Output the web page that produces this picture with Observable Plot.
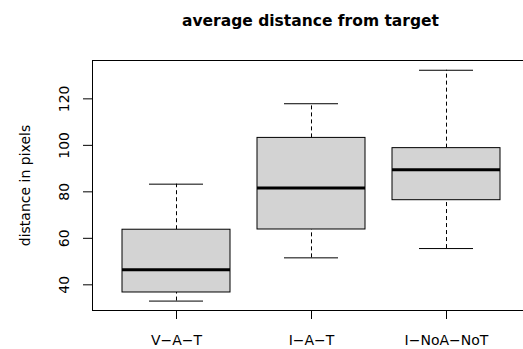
<!DOCTYPE html>
<html>
<head>
<meta charset="utf-8">
<script src="https://cdn.jsdelivr.net/npm/d3@7"></script>
<script src="https://cdn.jsdelivr.net/npm/@observablehq/plot@0.6"></script>
<style>
  html, body { margin: 0; padding: 0; background: #fff; overflow: hidden; }
  #wrap { width: 523px; height: 349px; position: relative; overflow: hidden; }
  #title {
    height: 40px; box-sizing: border-box; padding-top: 12px; padding-left: 98px;
    line-height: 18px; text-align: center; font-family: "DejaVu Sans", sans-serif;
    font-weight: bold; font-size: 15.5px; color: #000; white-space: nowrap;
  }
  #chart { width: 523px; overflow: hidden; }
  #chart svg { display: block; max-width: none !important; }
</style>
</head>
<body>
<div id="wrap">
  <div id="title">average distance from target</div>
  <div id="chart"></div>
</div>
<script>
const categories = ["V−A−T", "I−A−T", "I−NoA−NoT"];
const lowerWhisker = [33.0, 51.6, 55.6];
const lowerQuartile = [36.7, 63.8, 76.4];
const medians = [46.5, 81.7, 89.5];
const upperQuartile = [63.7, 103.2, 98.8];
const upperWhisker = [83.3, 117.9, 132.3];
const yTicks = [40, 60, 80, 100, 120];
const yLabel = "distance in pixels";

const rows = categories.map((c, i) => ({
  cat: c,
  lo: lowerWhisker[i],
  q1: lowerQuartile[i],
  med: medians[i],
  q3: upperQuartile[i],
  hi: upperWhisker[i]
}));

const chart = Plot.plot({
  width: 531,
  height: 309,
  marginTop: 20,
  marginBottom: 39,
  marginLeft: 92,
  marginRight: 0.4,
  style: { fontFamily: "DejaVu Sans, sans-serif", fontSize: "14px", color: "#000", background: "#fff", maxWidth: "none" },
  x: {
    type: "band", domain: categories, paddingInner: 0.2, paddingOuter: 0.22,
    tickSize: 9, tickPadding: 15.4, label: null
  },
  y: {
    domain: [28.95, 136.5], ticks: yTicks, tickSize: 9, tickRotate: -90,
    tickPadding: 14.7, label: null
  },
  marks: [
    Plot.ruleX(rows, { x: "cat", y1: "q3", y2: "hi", stroke: "#000", strokeDasharray: "4,3" }),
    Plot.ruleX(rows, { x: "cat", y1: "lo", y2: "q1", stroke: "#000", strokeDasharray: "4,3" }),
    Plot.tickY(rows, { x: "cat", y: "hi", stroke: "#000", insetLeft: 27, insetRight: 27 }),
    Plot.tickY(rows, { x: "cat", y: "lo", stroke: "#000", insetLeft: 27, insetRight: 27 }),
    Plot.barY(rows, { x: "cat", y1: "q1", y2: "q3", fill: "#d3d3d3", stroke: "#000", strokeWidth: 1 }),
    Plot.tickY(rows, { x: "cat", y: "med", stroke: "#000", strokeWidth: 3 }),
    Plot.frame({ stroke: "#000" }),
    Plot.text([yLabel], {
      text: d => d, frameAnchor: "left", rotate: -90, dx: -62.5,
      textAnchor: "middle", lineAnchor: "bottom", fontSize: 14, fill: "#000"
    })
  ]
});
document.getElementById("chart").appendChild(chart);
</script>
</body>
</html>
